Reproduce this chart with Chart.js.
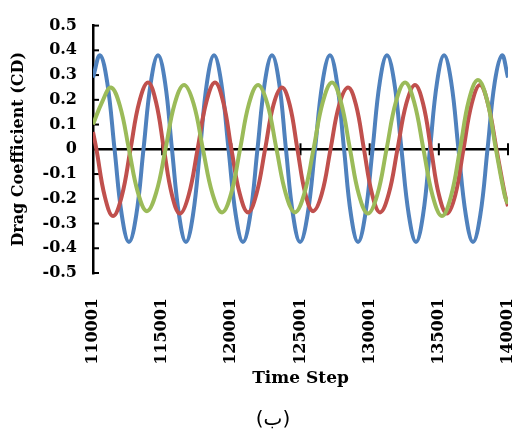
<!DOCTYPE html>
<html>
<head>
<meta charset="utf-8">
<script src="https://cdn.jsdelivr.net/npm/chart.js@4"></script>
<style>
  body { margin: 0; background: #fff; }
  canvas { display: block; }
</style>
</head>
<body>
<canvas id="myChart" width="526" height="435"></canvas>
<script>
// Drag coefficient history of the three bodies, time step vs CD
const blueSteps = [110001, 110510,
    111030, 111560, 112080, 112600, 113130, 113650, 114180, 114700,
    115210, 115710, 116220, 116720, 117230, 117740, 118240, 118750,
    119270, 119800, 120320, 120840, 121370, 121890, 122420, 122940,
    123450, 123950, 124460, 124970, 125510, 126050, 126590, 127130,
    127640, 128150, 128650, 129160, 129680, 130210, 130730, 131250,
    131780, 132300, 132830, 133350, 133860, 134360, 134870, 135380,
    135900, 136420, 136950, 137470, 138000, 138520, 139040, 139570,
    140001];
const blueCd = [0.29, 0.38,
    0.27, 0, -0.265, -0.375, -0.265, 0, 0.27, 0.38,
    0.27, 0, -0.265, -0.375, -0.265, 0, 0.27, 0.38,
    0.27, 0, -0.265, -0.375, -0.265, 0, 0.27, 0.38,
    0.27, 0, -0.265, -0.375, -0.265, 0, 0.27, 0.38,
    0.27, 0, -0.265, -0.375, -0.265, 0, 0.27, 0.38,
    0.27, 0, -0.265, -0.375, -0.265, 0, 0.27, 0.38,
    0.27, 0, -0.265, -0.375, -0.265, 0, 0.27, 0.38,
    0.29];

const redSteps = [110001, 110250, 110850, 111450,
    112080, 112710, 113340, 113980, 114560, 115130, 115710, 116290,
    116920, 117560, 118190, 118820, 119420, 120010, 120610, 121210,
    121820, 122440, 123050, 123660, 124220, 124780, 125350, 125910,
    126540, 127170, 127800, 128440, 129010, 129590, 130170, 130750,
    131380, 132010, 132650, 133280, 133860, 134440, 135010, 135590,
    136190, 136780, 137380, 137980,
    138570, 139170, 139770, 140001];
const redCd = [0.07, 0, -0.19, -0.27,
    -0.19, 0, 0.19, 0.27, 0.19, 0, -0.185, -0.26,
    -0.185, 0, 0.19, 0.27, 0.19, 0, -0.18, -0.255,
    -0.18, 0, 0.18, 0.25, 0.18, 0, -0.18, -0.25,
    -0.18, 0, 0.18, 0.25, 0.18, 0, -0.18, -0.255,
    -0.18, 0, 0.185, 0.26, 0.185, 0, -0.185, -0.26,
    -0.185, 0, 0.185, 0.26,
    0.18, 0, -0.18, -0.23];

const greenSteps = [110001, 110650, 111300,
    111950, 112600, 113250, 113900, 114570, 115240, 115910, 116580,
    117270, 117950, 118640, 119330, 119980, 120630, 121280, 121930,
    122600, 123270, 123940, 124600, 125270, 125940, 126610, 127280,
    127930, 128580, 129230, 129880, 130550, 131220, 131890, 132560,
    133220, 133890, 134560, 135230, 135880, 136530, 137180, 137830,
    138480, 139130, 139780, 140001];
const greenCd = [0.10, 0.19, 0.25,
    0.175, 0, -0.175, -0.25, -0.175, 0, 0.185, 0.26,
    0.185, 0, -0.18, -0.255, -0.18, 0, 0.185, 0.26,
    0.185, 0, -0.18, -0.255, -0.18, 0, 0.19, 0.27,
    0.19, 0, -0.185, -0.26, -0.185, 0, 0.19, 0.27,
    0.19, 0, -0.19, -0.27, -0.19, 0, 0.2, 0.28,
    0.2, 0, -0.19, -0.22];

const xTickValues = [110001, 115001, 120001, 125001, 130001, 135001, 140001];
const yTickStep = 0.1;
const panelLabel = '(ب)';

function toPoints(steps, values) {
    return steps.map((s, i) => ({ x: s, y: values[i] }));
}

const serifBold = (size) => ({ family: '"DejaVu Serif", serif', size: size, weight: 'bold' });

// short tick marks: inward on the y axis, crossing the zero line on x
const axisMarks = {
    id: 'axisMarks',
    beforeDatasetsDraw(chart) {
        const { ctx, chartArea, scales: { x, y } } = chart;
        ctx.save();
        ctx.strokeStyle = '#000';
        ctx.lineWidth = 2;
        y.ticks.forEach(t => {
            const py = y.getPixelForValue(t.value);
            ctx.beginPath();
            ctx.moveTo(chartArea.left, py);
            ctx.lineTo(chartArea.left + 6, py);
            ctx.stroke();
        });
        const y0 = y.getPixelForValue(0);
        x.ticks.forEach(t => {
            const px = x.getPixelForValue(t.value);
            ctx.beginPath();
            ctx.moveTo(px, y0 - 6);
            ctx.lineTo(px, y0 + 6);
            ctx.stroke();
        });
        ctx.restore();
    },
    afterDraw(chart) {
        const ctx = chart.ctx;
        ctx.save();
        ctx.fillStyle = '#000';
        ctx.font = '20px "DejaVu Sans"';
        ctx.textAlign = 'center';
        ctx.textBaseline = 'middle';
        ctx.fillText(panelLabel, 273, 420);
        ctx.restore();
    }
};

const ctx = document.getElementById('myChart').getContext('2d');
const myChart = new Chart(ctx, {
    type: 'line',
    data: {
        datasets: [
            { label: 'Blue', data: toPoints(blueSteps, blueCd), borderColor: '#4F81BD', order: 2 },
            { label: 'Red', data: toPoints(redSteps, redCd), borderColor: '#C0504D', order: 1 },
            { label: 'Green', data: toPoints(greenSteps, greenCd), borderColor: '#9BBB59', order: 0 }
        ]
    },
    options: {
        responsive: false,
        animation: false,
        layout: { padding: { top: 20, right: 18, left: 0, bottom: 0 } },
        elements: {
            line: { borderWidth: 4, tension: 0.4 },
            point: { radius: 0 }
        },
        plugins: {
            legend: { display: false },
            tooltip: { enabled: false }
        },
        scales: {
            x: {
                type: 'linear',
                min: 110001,
                max: 140001,
                afterBuildTicks: s => { s.ticks = xTickValues.map(v => ({ value: v })); },
                afterFit: s => {
                    s.height = 162;
                    s.paddingLeft = 0;
                    s.paddingRight = 0;
                },
                grid: { display: false },
                border: { display: false },
                ticks: {
                    autoSkip: false,
                    minRotation: 90,
                    maxRotation: 90,
                    padding: 17,
                    color: '#000',
                    font: serifBold(16),
                    callback: v => String(v)
                },
                title: {
                    display: true,
                    text: 'Time Step',
                    color: '#000',
                    font: serifBold(17),
                    padding: { top: 0, bottom: 46 }
                }
            },
            y: {
                min: -0.5,
                max: 0.5,
                afterFit: s => { s.width = 93; },
                grid: {
                    drawTicks: false,
                    lineWidth: 2.5,
                    color: c => Math.abs(c.tick.value) < 1e-9 ? '#000' : 'rgba(0,0,0,0)'
                },
                border: { display: true, color: '#000', width: 2.5 },
                ticks: {
                    stepSize: yTickStep,
                    padding: 16,
                    color: '#000',
                    font: serifBold(16),
                    callback: v => String(Math.round(v * 10) / 10)
                },
                title: {
                    display: true,
                    text: 'Drag Coefficient (CD)',
                    color: '#000',
                    font: serifBold(16),
                    padding: { top: 9, bottom: 0 }
                }
            }
        }
    },
    plugins: [axisMarks]
});
</script>
</body>
</html>
